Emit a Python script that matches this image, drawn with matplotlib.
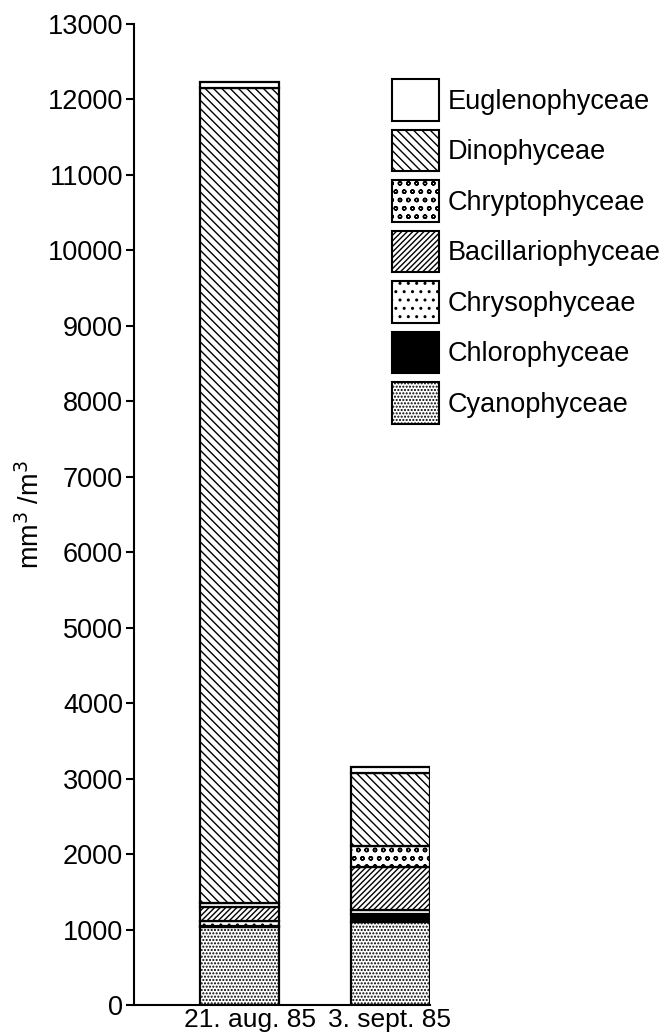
import matplotlib
matplotlib.use('Agg')
import matplotlib.pyplot as plt
from matplotlib.patches import Patch
from matplotlib.transforms import ScaledTranslation

# data (mm3/m3), stacked bottom -> top
dates = ['21. aug. 85', '3. sept. 85']
groups = ['Cyanophyceae', 'Chlorophyceae', 'Chrysophyceae', 'Bacillariophyceae',
          'Chryptophyceae', 'Dinophyceae', 'Euglenophyceae']
cyano = [1040, 1095]
chloro = [10, 110]
chryso = [65, 60]
bacillario = [180, 570]
chrypto = [60, 270]
dino = [10800, 975]
eugleno = [75, 80]

series = [cyano, chloro, chryso, bacillario, chrypto, dino, eugleno]
hatches = ['.....', None, '..', '//////', 'oo', '\\\\\\\\', None]
faces = ['white', 'black', 'white', 'white', 'white', 'white', 'white']

plt.rcParams['font.family'] = ['Liberation Sans', 'DejaVu Sans']
plt.rcParams['hatch.linewidth'] = 1.0

fig = plt.figure(figsize=(6.71, 10.34), dpi=100)
ax = fig.add_axes([134 / 671, 29 / 1034, 296 / 671, 981 / 1034])

x = [0, 1]
bottom = [0, 0]
for vals, h, fc in zip(series, hatches, faces):
    ax.bar(x, vals, bottom=bottom, width=0.52, color=fc, edgecolor='black',
           hatch=h, linewidth=1.6)
    bottom = [b + v for b, v in zip(bottom, vals)]

ax.set_xlim(-0.699, 1.26)
ax.set_ylim(0, 13000)
ax.set_yticks(range(0, 13001, 1000))
ax.tick_params(axis='y', direction='out', length=6, width=1.5, pad=2, labelsize=19.5)
ax.set_xticks(x)
ax.set_xticklabels(dates, fontsize=19)
ax.tick_params(axis='x', length=0, pad=2)
# labels sit a bit off the bar centres in the original
for lab, dx in zip(ax.get_xticklabels(), [10, -1]):
    lab.set_transform(lab.get_transform() + ScaledTranslation(dx / 100, 0, fig.dpi_scale_trans))
for s in ['top', 'right']:
    ax.spines[s].set_visible(False)
for s in ['left', 'bottom']:
    ax.spines[s].set_linewidth(1.5)
ax.set_ylabel('mm$^3$ /m$^3$', fontsize=19.5, labelpad=2)

handles = [Patch(facecolor=fc, edgecolor='black', hatch=h, linewidth=1.5)
           for h, fc in zip(hatches, faces)]
fig.legend(handles[::-1], groups[::-1], loc='upper left',
           bbox_to_anchor=(392 / 671, 1 - 79 / 1034), frameon=False,
           fontsize=19.5, handlelength=1.72, handleheight=2.0,
           labelspacing=0.32, handletextpad=0.35, borderpad=0, borderaxespad=0)

fig.savefig('out.png', dpi=100)
